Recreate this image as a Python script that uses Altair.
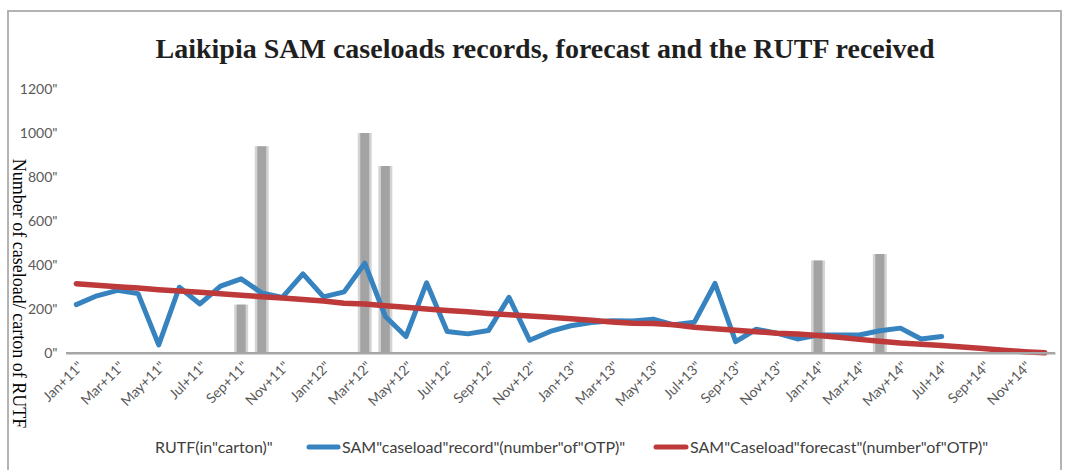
import altair as alt
import pandas as pd

# Month categories, Jan 2011 .. Dec 2014
month_names = ["Jan", "Feb", "Mar", "Apr", "May", "Jun",
               "Jul", "Aug", "Sep", "Oct", "Nov", "Dec"]
years = ["11", "12", "13", "14"]
months = [f'{m}+{y}"' for y in years for m in month_names]
tick_months = months[::2]

# SAM caseload recorded (number of OTP), Jan-11 .. Jul-14
caseload_record = [220, 260, 285, 270, 37, 299, 223, 304, 337, 273, 253, 360,
                   255, 278, 408, 166, 75, 319, 98, 87, 102, 253, 58, 98,
                   124, 139, 147, 146, 154, 128, 140, 316, 52, 108, 90, 64,
                   82, 82, 82, 101, 113, 64, 75]

# SAM caseload forecast (number of OTP), Jan-11 .. Dec-14
caseload_forecast = [315, 308, 301, 295, 288, 282, 276, 269, 262, 256, 250, 243,
                     236, 226, 223, 215, 208, 200, 193, 187, 180, 174, 168, 162,
                     156, 149, 141, 135, 134, 128, 117, 110, 103, 97, 90, 86,
                     80, 72, 62, 53, 45, 40, 34, 27, 20, 13, 6, 1]

# RUTF received (cartons), by month
rutf_months = ['Sep+11"', 'Oct+11"', 'Mar+12"', 'Apr+12"', 'Jan+14"', 'Apr+14"']
rutf_cartons = [220, 940, 1000, 850, 420, 450]

y_ticks = [0, 200, 400, 600, 800, 1000, 1200]

TITLE = "Laikipia SAM caseloads records, forecast and the RUTF received"
BLUE = "#3783bf"
RED = "#be3a3a"
GREY = "#a3a3a3"
AXIS_GREY = "#a6a6a6"
LABEL_FONT = "Lato"
PLOT_W, PLOT_H = 989, 264

record_df = pd.DataFrame({"month": months[:len(caseload_record)], "value": caseload_record})
forecast_df = pd.DataFrame({"month": months, "value": caseload_forecast})
rutf_df = pd.DataFrame({"month": rutf_months, "value": rutf_cartons})
one = pd.DataFrame({"k": [0]})

x_enc = alt.X(
    "month:N",
    sort=months,
    scale=alt.Scale(type="band", domain=months, paddingInner=0, paddingOuter=0),
    axis=alt.Axis(
        values=tick_months, title=None, labelAngle=-45, labelFont=LABEL_FONT,
        labelFontSize=14, labelColor="#595959", labelPadding=6, ticks=False,
        domain=True, domainColor=AXIS_GREY, domainWidth=2, domainOpacity=1,
        grid=False, zindex=1,
    ),
)
y_enc = alt.Y(
    "value:Q",
    scale=alt.Scale(domain=[0, 1200], nice=False),
    axis=alt.Axis(
        values=y_ticks, labelExpr='datum.label + "\\""', format="d",
        labelFont=LABEL_FONT, labelFontSize=14, labelColor="#595959",
        labelPadding=9, ticks=False, domain=False, grid=False,
        title="Number of caseload/ carton of RUTF", titleAngle=90,
        titleFont="Liberation Serif", titleFontSize=18, titleFontWeight="normal",
        titleColor="#000000", titleX=-49, titleY=204, titleAlign="center",
        titleBaseline="middle",
    ),
)

# Outer frame of the chart (outline only)
frame = alt.Chart(one).mark_rect(filled=False, stroke="#b3b3b3", strokeWidth=2).encode(
    x=alt.value(-58), x2=alt.value(995), y=alt.value(-78), y2=alt.value(400)
)

# Category axis baseline along the bottom of the plot
baseline = alt.Chart(one).mark_rule(
    stroke=AXIS_GREY, strokeWidth=2, opacity=1
).encode(
    x=alt.value(0), x2=alt.value(PLOT_W), y=alt.value(PLOT_H), y2=alt.value(PLOT_H)
)

# Chart heading
heading = alt.Chart(one).mark_text(
    font="Liberation Serif", fontSize=28, fontWeight="bold", color="#1f1f1f",
    align="center", baseline="alphabetic",
).encode(x=alt.value(545 - 66), y=alt.value(58 - 89), text=alt.value(TITLE))

# RUTF bars: a soft halo plus a solid core
bars_halo = alt.Chart(rutf_df).mark_bar(size=14, color="#d4d4d4").encode(x=x_enc, y=y_enc)
bars_core = alt.Chart(rutf_df).mark_bar(size=9, color=GREY).encode(x=x_enc, y=y_enc)

record_line = alt.Chart(record_df).mark_line(
    color=BLUE, strokeWidth=5, strokeCap="round", strokeJoin="round"
).encode(x=x_enc, y=y_enc)
forecast_line = alt.Chart(forecast_df).mark_line(
    color=RED, strokeWidth=5.5, strokeCap="round", strokeJoin="round"
).encode(x=x_enc, y=y_enc)

# Legend row below the axis
legend_y = 448 - 89
leg_style = dict(font=LABEL_FONT, fontSize=16, color="#404040", align="left", baseline="middle")
leg_rutf = alt.Chart(one).mark_text(**leg_style).encode(
    x=alt.value(155 - 66), y=alt.value(legend_y), text=alt.value('RUTF(in"carton)"'))
leg_blue_sw = alt.Chart(one).mark_rule(color=BLUE, strokeWidth=5, strokeCap="round").encode(
    x=alt.value(309 - 66), x2=alt.value(338 - 66), y=alt.value(legend_y - 1))
leg_blue = alt.Chart(one).mark_text(**leg_style).encode(
    x=alt.value(342 - 66), y=alt.value(legend_y),
    text=alt.value('SAM"caseload"record"(number"of"OTP)"'))
leg_red_sw = alt.Chart(one).mark_rule(color=RED, strokeWidth=5, strokeCap="round").encode(
    x=alt.value(656 - 66), x2=alt.value(686 - 66), y=alt.value(legend_y - 1))
leg_red = alt.Chart(one).mark_text(**leg_style).encode(
    x=alt.value(690 - 66), y=alt.value(legend_y),
    text=alt.value('SAM"Caseload"forecast"(number"of"OTP)"'))

chart = alt.layer(
    frame, heading, bars_halo, bars_core, record_line, forecast_line,
    leg_rutf, leg_blue_sw, leg_blue, leg_red_sw, leg_red, baseline,
).properties(
    width=PLOT_W,
    height=PLOT_H,
    background="white",
    padding={"left": 66, "top": 89, "right": 11, "bottom": 117},
    autosize=alt.AutoSizeParams(type="none"),
).configure_view(stroke="transparent")

chart.save("out.html", embed_options={"renderer": "svg", "actions": False})
